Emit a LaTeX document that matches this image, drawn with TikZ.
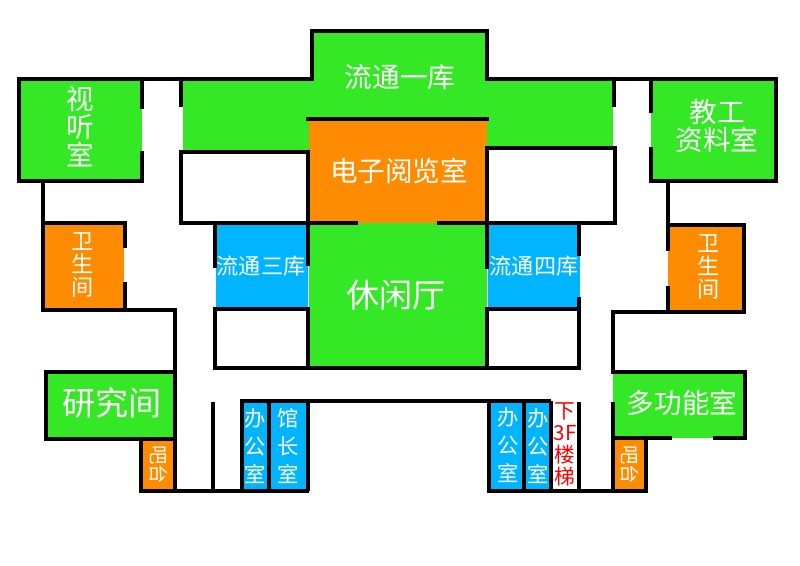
\documentclass[tikz,border=0pt]{standalone}
\usepackage{fontspec}
\setmainfont{Noto Sans CJK SC}
\usetikzlibrary{positioning}
\definecolor{roomgreen}{RGB}{53,232,37}
\definecolor{roomorange}{RGB}{255,140,0}
\definecolor{roomblue}{RGB}{0,180,255}
\tikzset{
	wall/.style={black,line width=2.9pt},
	thinwall/.style={black,line width=2.4pt},
	roomlabel/.style={text=white,inner sep=0pt,align=center},
	big/.style={roomlabel,font=\fontsize{24.8}{28}\selectfont},
	mid/.style={roomlabel,font=\fontsize{20.7}{21}\selectfont},
	small/.style={roomlabel,font=\fontsize{16.6}{17}\selectfont},
	office/.style={roomlabel,font=\fontsize{16}{21}\selectfont},
	bar/.style={roomlabel,font=\fontsize{14.5}{15}\selectfont,rotate=-90},
}
\begin{document}
\begin{tikzpicture}[x=0.75pt,y=-0.75pt]
	\useasboundingbox (0,0) rectangle (800,566);
	% room fills
	\fill[roomgreen] (19,79) rectangle (142,181);
	\fill[roomgreen] (183,79) -- (312,79) -- (312,31) -- (487,31) -- (487,79) -- (613,79) -- (613,148) -- (487,148) -- (487,119) -- (310,119) -- (310,152) -- (183,152) -- cycle;
	\fill[roomgreen] (651,79) rectangle (776,181);
	\fill[roomorange] (309,119) rectangle (487,223);
	\fill[roomgreen] (309,223) rectangle (487,368);
	\fill[roomblue] (216,223) rectangle (308,309);
	\fill[roomblue] (488,223) rectangle (580,309);
	\fill[roomorange] (43,223) rectangle (124,310);
	\fill[roomorange] (668,225) rectangle (744,312);
	\fill[roomgreen] (46,372) rectangle (175,439);
	\fill[roomgreen] (613,372) rectangle (745,438);
	\fill[roomorange] (141,439) rectangle (175,491);
	\fill[roomorange] (613,438) rectangle (646,491);
	\fill[roomblue] (242,401) rectangle (308,491);
	\fill[roomblue] (489,401) rectangle (551,491);
	% outer walls, top side
	\draw[wall] (142,109) -- (142,79) -- (19,79) -- (19,181) -- (142,181) -- (142,151);
	\draw[wall] (142,79) -- (312,79) -- (312,31) -- (487,31) -- (487,79) -- (776,79) -- (776,181) -- (651,181) -- (651,147);
	\draw[wall] (651,79) -- (651,113);
	\draw[wall] (181,79) -- (181,107);
	\draw[wall] (614,79) -- (614,107);
	% inner blocks
	\draw[wall] (306,119) -- (489,119);
	\draw[wall] (181,152) rectangle (308,223);
	\draw[wall] (487,148) rectangle (615,223);
	\draw[wall] (308,223) -- (358,223);
	\draw[wall] (437,223) -- (487,223);
	\draw[wall] (308,223) -- (308,266);
	\draw[wall] (487,223) -- (487,269);
	\draw[wall] (215,223) -- (215,268);
	\draw[wall] (579,223) -- (579,256);
	\draw[wall] (579,297) -- (579,368) -- (487,368) -- (487,309) -- (579,309);
	\draw[wall] (487,368) -- (215,368) -- (215,309) -- (308,309) -- (308,368);
	% left wing
	\draw[thinwall] (43,181) -- (43,223);
	\draw[wall] (125,248) -- (125,223) -- (43,223) -- (43,310) -- (175,310) -- (175,491);
	\draw[wall] (125,282) -- (125,310);
	\draw[wall] (175,372) -- (46,372) -- (46,439) -- (175,439);
	\draw[wall] (141,439) -- (141,491) -- (309,491);
	\draw[thinwall] (213,402) -- (213,491);
	\draw[wall] (242,491) -- (242,401) -- (551,401);
	\draw[wall] (308,401) -- (308,491);
	\draw[wall] (269,401) -- (269,491);
	% right wing
	\draw[thinwall] (668,181) -- (668,225);
	\draw[wall] (668,251) -- (668,225) -- (744,225) -- (744,312) -- (613,312) -- (613,372) -- (745,372) -- (745,438) -- (713,438);
	\draw[wall] (668,286) -- (668,312);
	\draw[wall] (613,402) -- (613,491);
	\draw[wall] (613,438) -- (672,438);
	\draw[wall] (646,438) -- (646,491) -- (489,491) -- (489,401);
	\draw[wall] (524,401) -- (524,491);
	\draw[wall] (551,401) -- (551,491);
	\draw[thinwall] (579,402) -- (579,491);
	% labels
	\node[mid] (lib1) at (400,77) {流通一库};
	\node[mid] (media) at (80,127) {视\\听\\室};
	\node[mid] (teach) at (717,126) {教工\\资料室};
	\node[mid] (ebook) at (399,171) {电子阅览室};
	\node[small] (wcl) at (83,265) {卫\\生\\间};
	\node[small] (wcr) at (709,267) {卫\\生\\间};
	\node[small] (lib3) at (261,266) {流通三库};
	\node[small] (lib4) at (534,266) {流通四库};
	\node[big] (lounge) at (396,295) {休闲厅};
	\node[big] (study) at (112,403) {研究间};
	\node[mid] (multi) at (682,403) {多功能室};
	\node[office] (off1) at (255,446) {办\\公\\室};
	\node[office] (head) at (288,446) {馆\\长\\室};
	\node[office] (off2) at (508,445) {办\\公\\室};
	\node[office] (off3) at (538,446) {办\\公\\室};
	\node[office,text=red,font=\fontsize{15.5}{16.5}\selectfont] (stairs) at (565,444) {下\\3F\\楼\\梯};
	\node[bar] (barl) at (159,465) {吧台};
	\node[bar] (barr) at (630,465) {吧台};
\end{tikzpicture}
\end{document}
